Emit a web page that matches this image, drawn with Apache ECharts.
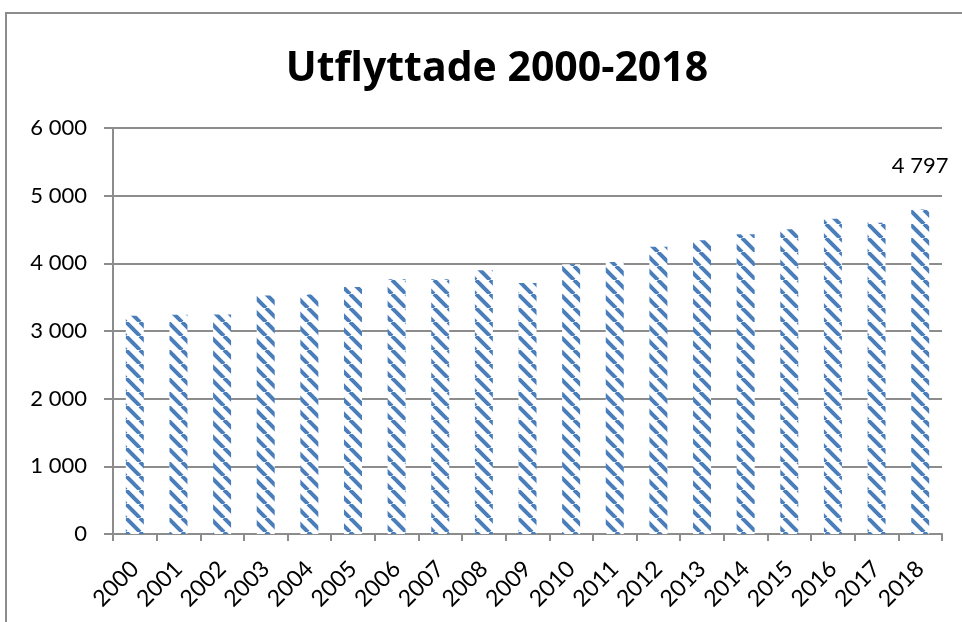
<!DOCTYPE html>
<html>
<head>
<meta charset="utf-8">
<script src="https://cdn.jsdelivr.net/npm/echarts@6/dist/echarts.min.js"></script>
<style>
  html, body { margin: 0; padding: 0; background: #fff; }
  #chart { width: 962px; height: 622px; }
</style>
</head>
<body>
<div id="chart"></div>
<script>
var years = ['2000', '2001', '2002', '2003', '2004', '2005', '2006', '2007', '2008', '2009',
             '2010', '2011', '2012', '2013', '2014', '2015', '2016', '2017', '2018'];
var utflyttade = [3225, 3240, 3245, 3524, 3540, 3650, 3765, 3765, 3897, 3710,
                  3985, 4020, 4244, 4342, 4430, 4503, 4658, 4600, 4797];
var yTicks = [0, 1000, 2000, 3000, 4000, 5000, 6000];

// mönster: breda diagonala ränder
function stripes() {
    var p = 14;
    var c = document.createElement('canvas');
    c.width = p; c.height = p;
    var ctx = c.getContext('2d');
    ctx.fillStyle = '#fff';
    ctx.fillRect(0, 0, p, p);
    ctx.strokeStyle = '#4A7EBB';
    ctx.lineWidth = 4;
    for (var k = -1; k <= 1; k++) {
        ctx.beginPath();
        ctx.moveTo(k * p, 0);
        ctx.lineTo(k * p + p, p);
        ctx.stroke();
    }
    return c;
}

function fmt(v) {
    return String(v).replace(/\B(?=(\d{3})+(?!\d))/g, ' ');
}

var gray = '#8c8c8c';
var font = 'Lato';

var myChart = echarts.init(document.getElementById('chart'));
option = {
    animation: false,
    backgroundColor: '#fff',
    title: {
        text: 'Utflyttade 2000-2018',
        left: 492,
        textAlign: 'center',
        top: 44,
        textStyle: {
            fontFamily: 'Open Sans',
            fontWeight: 'bold',
            fontSize: 41,
            color: '#000'
        }
    },
    graphic: [{
        type: 'rect',
        shape: { x: 6, y: 13, width: 1000, height: 700 },
        style: { fill: 'none', stroke: gray, lineWidth: 2 },
        silent: true
    }],
    grid: {
        left: 113,
        right: 20,
        top: 128,
        bottom: 88,
        containLabel: false
    },
    xAxis: [{
        type: 'category',
        data: years,
        axisLine: { lineStyle: { color: gray, width: 2 } },
        axisTick: { show: true, length: 7, lineStyle: { color: gray, width: 2 } },
        axisLabel: {
            rotate: 45,
            margin: 31,
            interval: 0,
            color: '#000',
            fontFamily: font,
            fontSize: 23,
            padding: [0, 0, 0, 0]
        }
    }],
    yAxis: [{
        type: 'value',
        min: yTicks[0],
        max: yTicks[yTicks.length - 1],
        interval: 1000,
        axisLine: { show: true, lineStyle: { color: gray, width: 2 } },
        axisTick: { show: true, length: 9, lineStyle: { color: gray, width: 2 } },
        splitLine: { lineStyle: { color: gray, width: 2 } },
        axisLabel: {
            margin: 26,
            color: '#000',
            fontFamily: font,
            fontSize: 22,
            formatter: fmt
        }
    }],
    series: [{
        name: 'Utflyttade',
        type: 'bar',
        barWidth: 18,
        itemStyle: {
            color: { image: stripes(), repeat: 'repeat' }
        },
        label: {
            show: false,
            position: 'top',
            distance: 32,
            color: '#000',
            fontFamily: font,
            fontSize: 22,
            formatter: function (p) { return fmt(p.value); }
        },
        data: utflyttade.map(function (v, i) {
            return i === utflyttade.length - 1 ? { value: v, label: { show: true } } : v;
        })
    }]
};
myChart.setOption(option);
</script>
</body>
</html>
